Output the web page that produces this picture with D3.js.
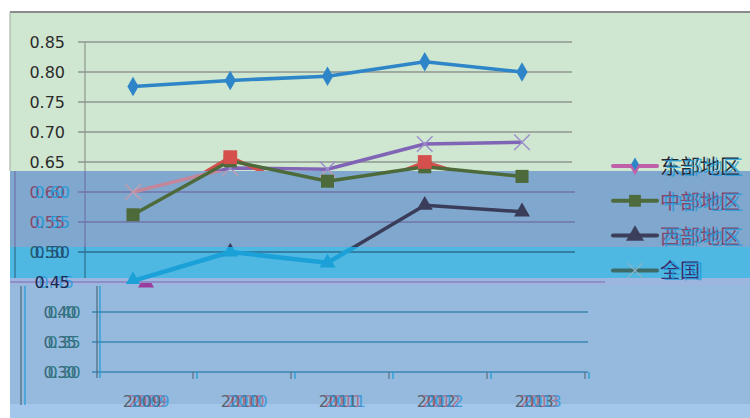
<!DOCTYPE html>
<html lang="zh">
<head>
<meta charset="UTF-8">
<title>东部地区 中部地区 西部地区 全国</title>
<script src="https://d3js.org/d3.v7.min.js"></script>
<style>
  body { margin: 0; background: #fff; }
  svg { display: block; }
  text { font-family: "DejaVu Sans", "Noto Sans", sans-serif; }
  .legend text { font-family: "Noto Sans CJK SC", sans-serif; }
</style>
</head>
<body>
<div id="chart"></div>
<script>
// data
const years = ["2009", "2010", "2011", "2012", "2013"];
const east = [0.776, 0.786, 0.793, 0.817, 0.800];
const centralRed = [0.562, 0.658, 0.585, 0.650, 0.600];
const central = [0.562, 0.652, 0.618, 0.642, 0.626];
const west = [0.452, 0.500, 0.482, 0.578, 0.567];
const national = [0.600, 0.640, 0.638, 0.680, 0.683];
const upperTicks = [0.45, 0.50, 0.55, 0.60, 0.65, 0.70, 0.75, 0.80, 0.85];
const lowerTicks = [0.30, 0.35, 0.40];
const legendLabels = ["东部地区", "中部地区", "西部地区", "全国"];

const W = 750, H = 418;
const svg = d3.select("#chart").append("svg").attr("width", W).attr("height", H);

// colour bands of the picture
const bands = [
  { id: "A", y0: 12, y1: 171, fill: "#cfe6d0", grid: "#8e9590" },
  { id: "B", y0: 171, y1: 247, fill: "#80a7cd", grid: "#7074a8" },
  { id: "C", y0: 247, y1: 278, fill: "#4eb8e2", grid: "#2d6d8e" },
  { id: "D0", y0: 278, y1: 285, fill: "#9cb6e0", grid: "#8a80c0" },
  { id: "D", y0: 285, y1: 404, fill: "#95badd", grid: "#3a86b2" },
  { id: "E", y0: 404, y1: 418, fill: "#a3c7ea", grid: "#3a86b2" }
];

const defs = svg.append("defs");
bands.forEach(b => {
  defs.append("clipPath").attr("id", "clip-" + b.id)
    .append("rect").attr("x", 0).attr("y", b.y0).attr("width", W).attr("height", b.y1 - b.y0);
});
defs.append("clipPath").attr("id", "clip-cyan")
  .append("rect").attr("x", 0).attr("y", 247).attr("width", W).attr("height", 37);
defs.append("clipPath").attr("id", "clip-low")
  .append("rect").attr("x", 0).attr("y", 283).attr("width", W).attr("height", 20);

svg.selectAll(".band").data(bands).enter().append("rect")
  .attr("class", "band")
  .attr("x", 10).attr("y", d => d.y0)
  .attr("width", W - 10).attr("height", d => d.y1 - d.y0)
  .attr("fill", d => d.fill);

// frame
svg.append("line").attr("x1", 10).attr("x2", W).attr("y1", 12).attr("y2", 12)
  .attr("stroke", "#8a8a8a").attr("stroke-width", 2);
svg.append("line").attr("x1", 10).attr("x2", 10).attr("y1", 12).attr("y2", 171)
  .attr("stroke", "#a0a8a0").attr("stroke-width", 1);

const y = d3.scaleLinear().domain([0.30, 0.85]).range([372, 42]);
const x1 = d3.scalePoint().domain(years).range([133, 522]);
const x2 = d3.scaleBand().domain(years).range([97, 587]);

// upper gridlines, coloured per band
["A", "B", "C"].forEach(id => {
  const b = bands.find(d => d.id === id);
  const g = svg.append("g").attr("clip-path", `url(#clip-${id})`);
  g.selectAll("line.grid").data(upperTicks.filter(t => t > 0.45)).enter().append("line")
    .attr("x1", 78).attr("x2", id === "A" ? 572 : 575)
    .attr("y1", d => y(d)).attr("y2", d => y(d))
    .attr("stroke", b.grid).attr("stroke-width", 1.5);
  g.append("line").attr("x1", 85).attr("x2", 85).attr("y1", y(0.85)).attr("y2", 290)
    .attr("stroke", b.grid).attr("stroke-width", 1.2);
  g.append("line").attr("x1", 15).attr("x2", 15).attr("y1", 171).attr("y2", 290)
    .attr("stroke", b.grid).attr("stroke-width", 1.2);
});
svg.append("line").attr("x1", 10).attr("x2", 605).attr("y1", y(0.45)).attr("y2", y(0.45))
  .attr("stroke", "#8a80c0").attr("stroke-width", 1.5);

// lower (second) axis block
svg.selectAll("line.lowgrid").data(lowerTicks).enter().append("line")
  .attr("x1", 92).attr("x2", 588)
  .attr("y1", d => y(d)).attr("y2", d => y(d))
  .attr("stroke", "#3a86b2").attr("stroke-width", 1.5);
[[97, "#4e6a7e"], [100, "#1f9ad6"]].forEach(([xx, c]) => {
  svg.append("line").attr("x1", xx).attr("x2", xx).attr("y1", 286).attr("y2", 378)
    .attr("stroke", c).attr("stroke-width", 1.2);
});
[[21, "#4e6a7e"], [25, "#1f9ad6"]].forEach(([xx, c]) => {
  svg.append("line").attr("x1", xx).attr("x2", xx).attr("y1", 286).attr("y2", 405)
    .attr("stroke", c).attr("stroke-width", 1.2);
});
const bounds = years.map(d => x2(d) + x2.bandwidth());
bounds.forEach(bx => {
  [[-2, "#5a7080"], [2, "#1f9ad6"]].forEach(([dx, c]) => {
    svg.append("line").attr("x1", bx + dx).attr("x2", bx + dx)
      .attr("y1", y(0.30)).attr("y2", y(0.30) + 7)
      .attr("stroke", c).attr("stroke-width", 1.2);
  });
});

// y tick labels
const fmt = d3.format(".2f");
upperTicks.forEach(t => {
  const yy = y(t) + 6;
  let layers;
  if (y(t) < 171) layers = [[65, "#2b2b2b", 1]];
  else if (y(t) < 247) layers = [[65, "#86466a", 1], [70, "#1d9ad8", 0.9]];
  else if (y(t) < 278) layers = [[65, "#2a5868", 1], [70, "#1a4c80", 0.9]];
  else layers = [[74, "#2a9ad8", 0.8], [70, "#1a2850", 1]];
  layers.forEach(([xx, c, o]) => {
    svg.append("text").attr("x", xx).attr("y", yy).attr("text-anchor", "end")
      .attr("font-size", 16).attr("fill", c).attr("opacity", o).text(fmt(t));
  });
});
lowerTicks.forEach(t => {
  [[76, "#3d6478"], [80, "#2f7a88"]].forEach(([xx, c]) => {
    svg.append("text").attr("x", xx).attr("y", y(t) + 6).attr("text-anchor", "end")
      .attr("font-size", 16).attr("letter-spacing", -0.8).attr("fill", c)
      .text(fmt(t));
  });
});

// x labels
years.forEach(yr => {
  const cx = x2(yr) + x2.bandwidth() / 2;
  [[-4, "#56606e", 1], [1, "#b8546a", 0.7], [4, "#2c95d6", 0.8]].forEach(([dx, c, o]) => {
    svg.append("text").attr("x", cx + dx).attr("y", 407).attr("text-anchor", "middle")
      .attr("font-size", 16).attr("letter-spacing", -0.6).attr("fill", c).attr("opacity", o).text(yr);
  });
});

// series
const line = xs => d3.line().x((d, i) => xs(years[i])).y(d => y(d));
function drawSeries(values, o) {
  const xs = o.xs || x1;
  const g = svg.append("g");
  if (o.clip) g.attr("clip-path", `url(#clip-${o.clip})`);
  if (o.width) {
    g.append("path").datum(values).attr("d", line(xs))
      .attr("fill", "none").attr("stroke", o.stroke).attr("stroke-width", o.width)
      .attr("stroke-linejoin", "round");
  }
  if (o.symbol) {
    const sym = d3.symbol().type(o.symbol).size(o.size);
    g.selectAll("path.m").data(values).enter().append("path")
      .attr("class", "m")
      .attr("transform", (d, i) => `translate(${xs(years[i]) + (o.dx || 0)},${y(d) + (o.dy || 0)})`)
      .attr("d", sym)
      .attr("fill", o.stroked ? "none" : o.mark)
      .attr("stroke", o.stroked ? o.mark : "none")
      .attr("stroke-width", o.stroked ? 1.4 : 0);
  }
}

drawSeries(national, { stroke: "#8064b6", width: 3.5, clip: "A", symbol: d3.symbolTimes, size: 160, mark: "#9c8ccc", stroked: true });
drawSeries(national, { stroke: "#c4869a", width: 3.5, clip: "B", symbol: d3.symbolTimes, size: 160, mark: "#c49cb0", stroked: true });
drawSeries(centralRed, { stroke: "#d5504c", width: 3.5, clip: "A" });
drawSeries(central, { stroke: "#4d6a3a", width: 3.5, symbol: d3.symbolSquare, size: 170, mark: "#4d6a3a" });
drawSeries(centralRed, { clip: "A", symbol: d3.symbolSquare, size: 190, mark: "#d5504c" });
drawSeries(east, { stroke: "#2e86c8", width: 3.5, symbol: d3.symbolDiamond, size: 110, mark: "#2e86c8" });
drawSeries(west, { stroke: "#3a3d5a", width: 3.5, clip: "B", symbol: d3.symbolTriangle, size: 110, mark: "#3a3d5a" });
drawSeries(west, { stroke: "#1ba0d8", width: 4.5, clip: "cyan", symbol: d3.symbolTriangle, size: 110, mark: "#1ba0d8" });
drawSeries(west.slice(0, 1), { xs: d3.scalePoint().domain(years).range([x2(years[0]) + x2.bandwidth() / 2, x2(years[4]) + x2.bandwidth() / 2]),
  clip: "low", symbol: d3.symbolTriangle, size: 110, mark: "#9a3c9c", dy: 2 });

// legend
const legendLine = ["#c060a8", "#4e6b3d", "#3b3f5c", "#3d6b68"];
const legendMark = ["#2e86c8", "#4e6b3d", "#3b3f5c", "#8ab4c4"];
const legendSym = [d3.symbolDiamond, d3.symbolSquare, d3.symbolTriangle, d3.symbolTimes];
const legendText = ["#26262e", "#86466a", "#86466a", "#3a2a6a"];
const lg = svg.append("g").attr("class", "legend");
legendLabels.forEach((lab, i) => {
  const cy = 166 + i * 34.8;
  lg.append("line").attr("x1", 613).attr("x2", 657).attr("y1", cy).attr("y2", cy)
    .attr("stroke", legendLine[i]).attr("stroke-width", 4).attr("stroke-linecap", "round");
  if (i === 0) {
    lg.append("path").attr("transform", `translate(635,${cy + 2})`)
      .attr("d", d3.symbol().type(d3.symbolDiamond).size(60)).attr("fill", legendLine[0]);
  }
  const stroked = legendSym[i] === d3.symbolTimes;
  lg.append("path").attr("transform", `translate(635,${cy + (i === 0 ? -2 : 0)})`)
    .attr("d", d3.symbol().type(legendSym[i]).size(i === 0 ? 50 : 140))
    .attr("fill", stroked ? "none" : legendMark[i])
    .attr("stroke", stroked ? legendMark[i] : "none").attr("stroke-width", 1.4);
  lg.append("text").attr("x", 660).attr("y", cy + 8).attr("font-size", 20)
    .attr("fill", legendText[i]).text(lab);
  lg.append("text").attr("x", 663).attr("y", cy + 9).attr("font-size", 20)
    .attr("fill", "#1c9ad8").attr("opacity", 0.75).text(lab);
});
</script>
</body>
</html>
